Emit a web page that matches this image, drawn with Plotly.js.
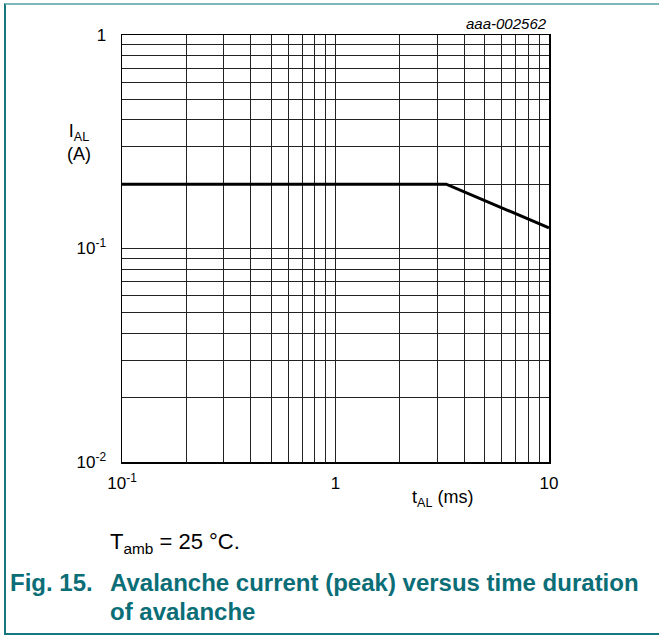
<!DOCTYPE html>
<html><head><meta charset="utf-8">
<script src="https://cdn.plot.ly/plotly-3.0.1.min.js"></script>
<style>
html,body{margin:0;padding:0;background:#fff;}
#wrap{position:relative;width:659px;height:635px;}
#chart{position:absolute;left:0;top:0;width:659px;height:635px;}
#frame{position:absolute;left:4px;top:3px;width:660px;height:628px;border-top:2px solid #7db7ba;border-left:2px solid #16777e;border-bottom:2px solid #16777e;pointer-events:none;}
</style></head>
<body><div id="wrap"><div id="chart"></div><div id="frame"></div></div>
<script>
const tAL = [0.1, 3.3, 10];
const iAL = [0.2, 0.2, 0.125];
const xMajor = [0.1, 1, 10];
const xMajorText = ['10<sup>-1</sup>', '1', '10'];
const yMajor = [0.01, 0.1, 1];
const yMajorText = ['10<sup>-2</sup>', '10<sup>-1</sup>', '1'];
const minorMult = [2, 3, 4, 5, 6, 7, 8, 9];

function buildTicks(majors, texts) {
  const vals = [], txt = [];
  majors.forEach((m, i) => {
    vals.push(m); txt.push(texts[i]);
    if (i < majors.length - 1) minorMult.forEach(k => { vals.push(m * k); txt.push(''); });
  });
  return {vals, txt};
}
const xt = buildTicks(xMajor, xMajorText);
const yt = buildTicks(yMajor, yMajorText);

const trace = {x: tAL, y: iAL, mode: 'lines', line: {color: '#000', width: 3}, hoverinfo: 'skip'};
const font = 'Liberation Sans, Arial, sans-serif';
const teal = '#0b6e77';
const layout = {
  width: 659, height: 635,
  margin: {l: 122, r: 110, t: 35, b: 173},
  paper_bgcolor: '#fff', plot_bgcolor: '#fff',
  showlegend: false,
  font: {family: font, size: 17, color: '#000'},
  xaxis: {type: 'log', range: [-1, 1], tickvals: xt.vals, ticktext: xt.txt,
    showgrid: true, gridcolor: '#222', gridwidth: 1, zeroline: false,
    showline: true, linecolor: '#000', linewidth: 1.5, mirror: true,
    ticks: '', ticklabelstandoff: 5, tickfont: {family: font, size: 17, color: '#000'}},
  yaxis: {type: 'log', range: [-2, 0], tickvals: yt.vals, ticktext: yt.txt,
    showgrid: true, gridcolor: '#222', gridwidth: 1, zeroline: false,
    showline: true, linecolor: '#000', linewidth: 1.5, mirror: true,
    ticks: '', ticklabelstandoff: 11, tickfont: {family: font, size: 17, color: '#000'}},
  annotations: [
    {xref: 'paper', yref: 'paper', x: 1, y: 1, xanchor: 'right', yanchor: 'bottom', yshift: 1,
     text: '<i>aaa-002562</i>', showarrow: false, font: {family: font, size: 15, color: '#000'}},
    {xref: 'paper', yref: 'paper', x: -0.1, y: 0.749, xanchor: 'center', yanchor: 'middle',
     text: 'I<sub>AL</sub><br>(A)', showarrow: false, align: 'center', font: {family: font, size: 18, color: '#000'}},
    {xref: 'paper', yref: 'paper', x: 0.75, y: -0.085, xanchor: 'center', yanchor: 'middle',
     text: 't<sub>AL</sub> (ms)', showarrow: false, font: {family: font, size: 18, color: '#000'}},
    {xref: 'paper', yref: 'paper', x: -0.033, y: -0.19, xanchor: 'left', yanchor: 'middle',
     text: 'T<sub>amb</sub> = 25 °C.', showarrow: false, font: {family: font, size: 22, color: '#000'}},
    {xref: 'paper', yref: 'paper', x: -0.267, y: -0.283, xanchor: 'left', yanchor: 'middle',
     text: '<b>Fig. 15.</b>', showarrow: false, font: {family: font, size: 24, color: teal}},
    {xref: 'paper', yref: 'paper', x: -0.033, y: -0.283, xanchor: 'left', yanchor: 'middle',
     text: '<b>Avalanche current (peak) versus time duration</b>', showarrow: false, font: {family: font, size: 24, color: teal}},
    {xref: 'paper', yref: 'paper', x: -0.033, y: -0.35, xanchor: 'left', yanchor: 'middle',
     text: '<b>of avalanche</b>', showarrow: false, font: {family: font, size: 24, color: teal}}
  ]
};
Plotly.newPlot('chart', [trace], layout, {displayModeBar: false, staticPlot: true});
</script></body></html>
